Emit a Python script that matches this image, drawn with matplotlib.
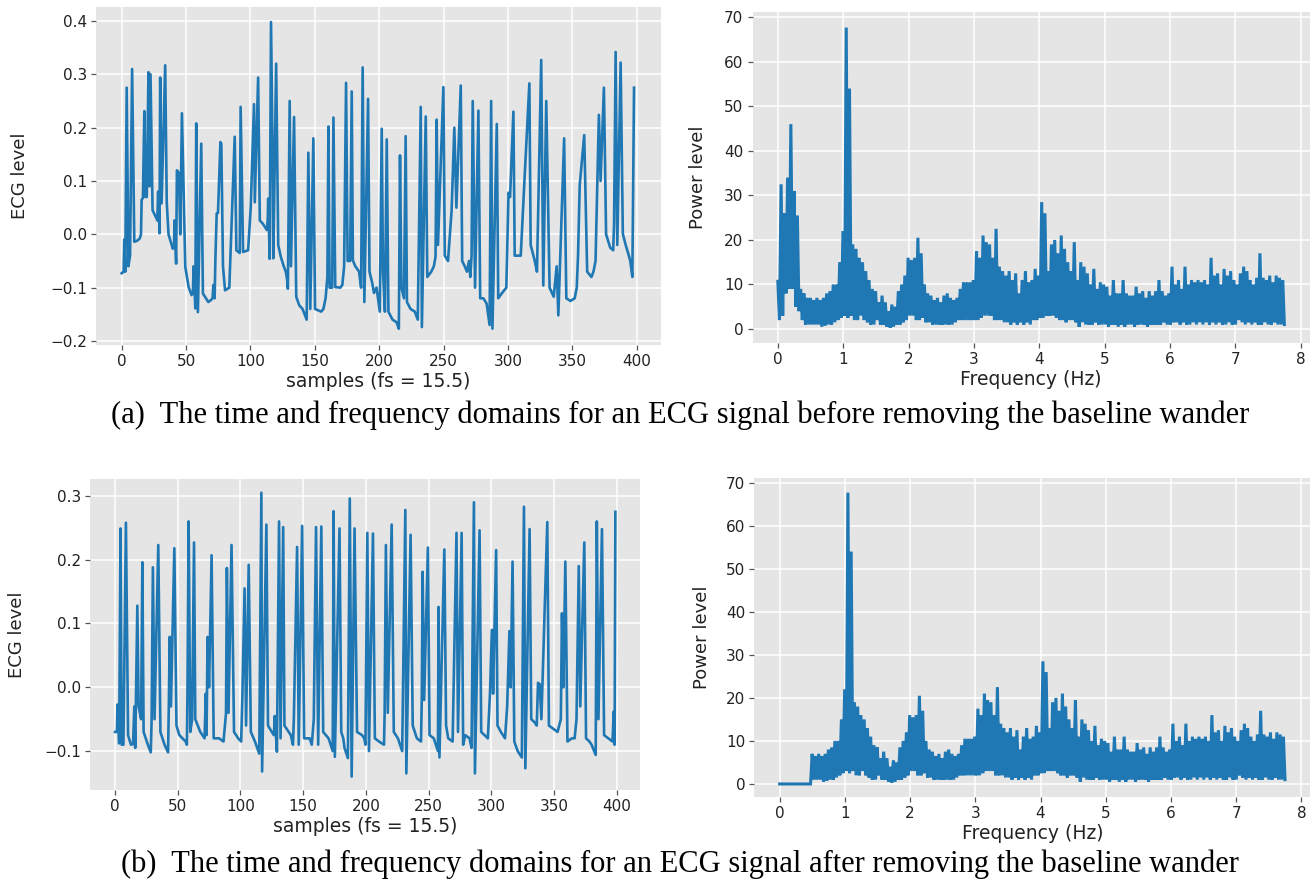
import numpy as np
import matplotlib
matplotlib.use("Agg")
import matplotlib.pyplot as plt

# ---------------- data ----------------
# (a) ECG before baseline-wander removal: (sample index, level)
ecg_before_idx = [0, 1.5, 2, 2.8, 3.9, 5.2, 6.5, 8.1, 9.8, 12, 14, 15, 15.5, 16.5, 17.6, 18.5, 19.5, 20.8,
                  21.6, 22.4, 24, 27, 27.7, 28.3, 29.4, 29.9, 31, 33.8, 35, 36.4, 39.7, 40.7, 41, 42.3,
                  42.9, 44.5, 45.5, 46.8, 49.4, 52, 54.3, 55.3, 55.9, 57.2, 57.9, 59.2, 61.8, 63.1,
                  67.3, 69, 70.6, 71.2, 72.2, 72.8, 73.8, 74.8, 76.7, 77.4, 78.7, 80.3, 83.6, 87.8,
                  89.1, 91.7, 92.4, 94.3, 98.2, 100.2, 102.8, 103.4, 106, 107.3, 109.6, 112.8, 113.5,
                  113.8, 115, 116, 117.5, 117.8, 120, 121.6, 123.6, 125.9, 127.5, 128.5, 129.1,
                  130.5, 131.5, 133.9, 135.6, 137.9, 140.5, 143.7, 145, 146.5, 148.9, 150.2, 155,
                  156.7, 158.4, 159.8, 160.6, 161.5, 163.5, 164.5, 165.9, 169.8, 171.4, 172.8, 174.3,
                  175.5, 177.5, 178.7, 179.6, 181.5, 184.4, 186, 187.2, 188.5, 191.4, 192.5, 194.5,
                  196, 198, 200.5, 202, 203, 204.5, 205.9, 207.2, 210.4, 213.6, 215.3, 216.2, 217.3,
                  219.3, 220.6, 221.6, 224.4, 227.7, 230, 232.3, 233.2, 236.2, 237.4, 240.5, 242.5,
                  243.8, 244.7, 245.7, 249.9, 251, 253.5, 256.3, 258.4, 260, 263.4, 264.5, 266.5,
                  268.2, 269.8, 270.8, 271.8, 272.7, 274.5, 277.1, 278.5, 281, 283.5, 285.8, 287,
                  288, 291.4, 292.5, 295.5, 298.8, 300.5, 301.7, 304.3, 305.3, 310, 312.8, 316.7,
                  317.7, 320.9, 322.6, 325.9, 327.5, 329.8, 332.4, 335.6, 337.9, 339.2, 343.7, 345.4,
                  348.6, 351.9, 353.5, 354.5, 355.8, 359.3, 361.6, 364.9, 366.5, 368.1, 370.7, 372,
                  374.6, 376.3, 379.5, 381.8, 382.5, 383.7, 385, 387.6, 389.3, 391.5, 393.5, 395.1,
                  396.7, 398]
ecg_before_val = [-0.073, -0.070, -0.010, -0.070, 0.275, -0.060, -0.040, 0.310, -0.014, -0.012, -0.008,
                  0.000, 0.065, 0.068, 0.231, 0.070, 0.070, 0.304, 0.090, 0.300, 0.045, 0.030, 0.026,
                  0.080, 0.002, 0.294, 0.058, 0.317, 0.060, 0.000, -0.027, -0.020, 0.026, -0.055,
                  0.120, 0.115, 0.000, 0.227, -0.061, -0.099, -0.114, -0.110, -0.060, -0.139, 0.208,
                  -0.146, 0.170, -0.111, -0.127, -0.124, -0.120, -0.095, -0.120, -0.046, 0.039, 0.040,
                  0.173, 0.170, -0.060, -0.105, -0.100, 0.183, -0.030, -0.035, 0.239, -0.033, -0.030,
                  0.048, 0.244, 0.060, 0.294, 0.026, 0.020, 0.008, 0.030, 0.067, -0.046, 0.398, 0.090,
                  -0.045, 0.320, -0.020, -0.042, -0.060, -0.070, -0.085, -0.102, 0.250, -0.060, 0.220,
                  -0.117, -0.133, -0.140, -0.160, 0.153, -0.140, 0.180, -0.140, -0.145, -0.140,
                  -0.120, -0.080, 0.202, -0.100, -0.100, 0.219, -0.099, -0.100, -0.095, -0.060, 0.284,
                  -0.050, -0.050, 0.268, -0.049, -0.060, -0.070, -0.100, 0.313, -0.127, 0.254, -0.070,
                  -0.090, -0.110, -0.100, -0.145, 0.198, -0.070, -0.145, 0.178, -0.145, -0.160,
                  -0.165, -0.177, 0.148, -0.100, -0.120, 0.184, -0.127, -0.140, -0.145, -0.160, 0.239,
                  -0.174, 0.221, -0.080, -0.070, -0.060, -0.042, 0.215, -0.020, 0.276, -0.040, -0.050,
                  0.045, 0.200, 0.050, 0.279, -0.050, -0.060, -0.070, -0.050, -0.080, -0.040, 0.250,
                  -0.100, 0.232, -0.120, -0.120, -0.130, -0.170, 0.250, -0.177, 0.207, -0.120, -0.110,
                  -0.100, 0.078, 0.070, 0.230, -0.040, -0.040, 0.097, 0.283, -0.020, -0.050, -0.070,
                  0.327, -0.096, 0.250, -0.100, -0.117, -0.060, -0.152, 0.180, -0.120, -0.125, -0.120,
                  -0.100, -0.040, 0.092, 0.186, -0.070, -0.080, -0.070, -0.050, 0.224, 0.100, 0.275,
                  0.000, -0.025, -0.030, 0.020, 0.342, -0.020, 0.322, 0.001, -0.020, -0.036, -0.050,
                  -0.080, 0.275]

# (b) ECG after baseline-wander removal: (sample index, level)
ecg_after_idx = [0, 1.5, 2, 3.3, 4.4, 5.3, 6.7, 8.7, 10.4, 12.7, 14.4, 15.4, 16.1, 17.8, 18.8, 20.8, 21.8,
                 22.8, 26.2, 28.5, 29.2, 30.2, 31.5, 34.5, 36.2, 39.5, 42.3, 42.9, 43.6, 44.6, 47.3,
                 49, 51.3, 56.3, 57.3, 57.8, 58.7, 60, 61.5, 63, 64, 68, 71.4, 72.4, 73, 73.8, 75, 77,
                 78.7, 83, 86.5, 88.5, 89.2, 90.5, 92.9, 94.9, 98.2, 100.6, 101.5, 103.3, 104.5, 106.6,
                 108.3, 111.6, 115, 116.7, 117.3, 120.7, 122, 125, 126.7, 127.4, 129.1, 130.8, 132,
                 134.1, 135.1, 140.2, 141.9, 142.6, 145.2, 146.5, 149.2, 150.8, 155.2, 156.9, 158.5,
                 160.3, 162, 164.5, 166, 170.3, 173.6, 174.3, 175.3, 179, 180.4, 182, 183, 185.7,
                 187.2, 188.7, 191, 193, 197, 198.7, 199.7, 201.2, 202.5, 205.7, 207.2, 210.5, 214.5,
                 215, 216, 217.5, 220.6, 222.3, 225.6, 229, 231.5, 232.3, 235.7, 237.4, 240.7, 244,
                 244.6, 245.3, 246.5, 249.5, 250.8, 254.2, 257.5, 258, 258.7, 262.6, 264, 265.7,
                 269.2, 272.3, 273.5, 276.4, 277.6, 279.3, 282.7, 284.3, 286.2, 287, 290.7, 292,
                 294.6, 297.3, 299, 300.5, 301.5, 303.9, 305, 307.7, 311, 312.7, 314.5, 315.5, 317,
                 318.4, 321.1, 324.4, 326.1, 327.2, 330.6, 331.9, 334.6, 336.3, 337.3, 338.6, 340,
                 344.7, 346, 349.5, 352.9, 355.5, 356.4, 357.5, 359.1, 360.8, 364.2, 366.5, 368,
                 369.8, 371, 374.2, 375.6, 378.3, 380, 383.3, 384.2, 385.5, 388.3, 390, 393.3, 396.7,
                 397.7, 398.4, 399]
ecg_after_val = [-0.070, -0.070, -0.027, -0.088, 0.249, -0.090, -0.090, 0.258, -0.075, -0.090, -0.089,
                 -0.030, -0.095, 0.128, -0.030, -0.050, 0.196, -0.070, -0.090, -0.102, -0.050, 0.188,
                 -0.050, 0.223, -0.070, -0.090, -0.102, -0.030, 0.079, -0.030, 0.218, -0.060, -0.075,
                 -0.085, -0.090, 0.000, 0.260, -0.070, -0.050, 0.227, -0.050, -0.070, -0.080, -0.010,
                 -0.075, 0.079, 0.000, 0.207, -0.080, -0.080, -0.085, -0.041, 0.187, -0.040, 0.223,
                 -0.070, -0.080, -0.085, -0.020, 0.155, -0.060, 0.192, -0.070, -0.085, -0.104, 0.305,
                 -0.132, 0.255, -0.060, -0.070, -0.075, -0.045, -0.101, 0.260, -0.080, 0.251, -0.060,
                 -0.075, -0.090, -0.050, 0.220, -0.090, 0.253, -0.080, -0.080, -0.090, -0.050, 0.251,
                 -0.090, 0.252, -0.070, -0.080, -0.100, 0.276, -0.109, 0.249, -0.070, -0.080, -0.095,
                 -0.111, 0.296, -0.140, 0.249, -0.070, -0.075, -0.080, -0.090, 0.242, -0.100, 0.241,
                 -0.080, -0.085, -0.090, -0.040, 0.223, -0.040, 0.255, -0.070, -0.080, -0.100, 0.278,
                 -0.135, 0.239, -0.060, -0.080, -0.085, -0.020, 0.181, -0.020, 0.219, -0.075, -0.080,
                 -0.100, 0.126, -0.110, 0.216, -0.060, -0.080, -0.085, 0.242, -0.070, 0.242, -0.090,
                 -0.075, -0.080, -0.095, 0.290, -0.135, 0.246, -0.070, -0.075, -0.080, -0.010, 0.090,
                 -0.010, 0.215, -0.060, -0.070, -0.080, -0.030, 0.088, 0.000, 0.197, -0.085, -0.100,
                 -0.110, 0.283, -0.127, 0.248, -0.050, -0.055, -0.060, 0.007, 0.005, -0.050, 0.259,
                 -0.060, -0.065, -0.070, -0.050, 0.116, 0.000, 0.197, -0.085, -0.080, -0.080, -0.050,
                 0.190, -0.030, 0.227, -0.080, -0.085, -0.090, -0.106, 0.260, -0.050, 0.248, -0.075,
                 -0.080, -0.085, -0.038, -0.090, 0.275]

# Power spectrum, read every 0.05 Hz from 0 to 7.75 Hz: upper and lower edge of the noisy trace
power_upper_before = [10.7, 32.5, 26, 34, 46, 31, 25.5, 9, 8, 7, 7, 6.5, 7, 6.5, 7, 8, 8.5, 10, 10, 15,
                      22, 67.7, 54, 19, 18, 16, 15, 13, 11, 9, 8.5, 6, 7.5, 6, 4, 5.5, 5, 8.5, 10, 12,
                      16, 15.5, 16, 20.5, 17, 10, 8, 7.5, 6.5, 7, 6, 7.5, 8, 7, 6.5, 7, 9, 10.5, 10.5,
                      10.5, 11, 17.5, 16, 21, 19.5, 19, 16, 22.5, 14, 13, 12, 13, 11, 12.5, 8, 11, 13,
                      10.5, 11, 13.5, 12, 28.5, 26, 13, 19, 20, 17, 21, 18, 15, 13, 19.5, 11, 15, 14,
                      12.5, 10, 13.5, 9, 10.5, 10, 9.5, 7.5, 11, 8, 8, 11, 8, 7.5, 7.5, 9.5, 8, 8.5, 7,
                      8.5, 7.5, 8.5, 11, 8.5, 7.5, 8, 14, 10, 11, 9, 14, 10, 11, 10.5, 11, 10.5, 11,
                      10, 16, 12, 12.5, 10, 13.5, 12, 13, 11, 10, 12.5, 14, 13, 11, 10, 11.5, 17, 11.5,
                      11, 12, 10.5, 12, 11.5, 11]
power_lower_before = [2, 3, 8, 9, 9, 5, 4, 2, 1, 1, 1, 1, 1, 0.5, 0.8, 1, 1, 1.5, 2, 2.5,
                      3, 2.5, 3, 2, 2, 3, 2, 1.5, 1, 1, 2, 1, 1, 0.5, 0.3, 0.5, 1, 1, 1.5, 2,
                      3, 3, 2, 2, 2.5, 1.5, 1.5, 1, 1, 1, 1, 1, 1, 1, 1.5, 2, 2, 2, 2,
                      2, 2, 2, 2.5, 3, 3, 3, 2, 2, 2, 1.5, 1.5, 1, 1.5, 1, 1.5, 1, 1.5,
                      1, 2, 2, 2.5, 2.5, 3, 3, 3, 2.5, 2, 2, 1.5, 2, 2, 1.5, 0.5, 1.5, 1,
                      1, 1, 1.5, 1, 1, 1, 0.5, 1, 1, 0.5, 1, 0.5, 1, 1, 0.5, 1, 1, 1, 0.5,
                      1, 1, 1, 1, 1.5, 1, 1, 1.5, 1.5, 1, 1.5, 1, 1, 1.5, 1, 1.5, 1, 1.5,
                      1, 1.5, 1, 1.5, 1, 1, 1.5, 1, 1, 2, 1.5, 1, 1.5, 1, 1.5, 1, 1, 1.5,
                      1, 1, 1.5, 1, 1, 1]
n_removed = 10  # bins below 0.5 Hz removed by the baseline filter
power_upper_after = [0.0] * n_removed + power_upper_before[n_removed:]
power_lower_after = [0.0] * n_removed + power_lower_before[n_removed:]

f_max = 7.75
x_ticks_samples = [0, 50, 100, 150, 200, 250, 300, 350, 400]
y_ticks_before = [-0.2, -0.1, 0.0, 0.1, 0.2, 0.3, 0.4]
y_ticks_after = [-0.1, 0.0, 0.1, 0.2, 0.3]
x_ticks_freq = [0, 1, 2, 3, 4, 5, 6, 7, 8]
y_ticks_power = [0, 10, 20, 30, 40, 50, 60, 70]
caption_a = "(a)  The time and frequency domains for an ECG signal before removing the baseline wander"
caption_b = "(b)  The time and frequency domains for an ECG signal after removing the baseline wander"

# ---------------- figure ----------------
plt.style.use("ggplot")
W, H = 1314, 891
fig = plt.figure(figsize=(W / 100, H / 100), dpi=100)
fig.patch.set_facecolor("white")
LINE = "#1f77b4"


def add_ax(left, right, top, bottom):
    return fig.add_axes([left / W, 1 - bottom / H, (right - left) / W, (bottom - top) / H])


def style(ax, ylabel, xlabel, ylab_px, left_px, width_px):
    ax.set_facecolor("#E5E5E5")
    ax.grid(True, color="white", linewidth=1.1)
    for s in ax.spines.values():
        s.set_visible(False)
    ax.tick_params(axis="both", which="major", labelsize=11, labelcolor="#222222",
                   color="#555555", length=3.5, width=0.9, pad=3)
    ax.set_ylabel(ylabel, fontsize=13, color="#222222")
    ax.set_xlabel(xlabel, fontsize=13.5, color="#222222", labelpad=2)
    # label anchor is the right edge of the rotated text: shift by half its height
    ax.yaxis.set_label_coords((ylab_px + 9 - left_px) / width_px, 0.5)


def spectrum(upper, lower):
    y = np.column_stack([upper, lower]).ravel()
    x = np.linspace(0, f_max, len(y))
    return x, y


# (a) time domain
ax1 = add_ax(96, 661, 6.6, 344.7)
ax1.plot(ecg_before_idx, ecg_before_val, color=LINE, linewidth=1.9)
ax1.set_xlim(-19.95, 418.95)
ax1.set_ylim(-0.207, 0.427)
ax1.set_xticks(x_ticks_samples)
ax1.set_yticks(y_ticks_before)
ax1.set_yticklabels([f"{v:.1f}".replace("-", "\u2212") for v in y_ticks_before])
style(ax1, "ECG level", "samples (fs = 15.5)", 20, 96, 565)

# (a) frequency domain
ax2 = add_ax(752.5, 1309.7, 12.4, 342.8)
fx, fy = spectrum(power_upper_before, power_lower_before)
ax2.plot(fx, fy, color=LINE, linewidth=2.2, solid_joinstyle="miter")
ax2.set_xlim(-0.3875, 8.1375)
ax2.set_ylim(-3.1, 71.1)
ax2.set_xticks(x_ticks_freq)
ax2.set_yticks(y_ticks_power)
style(ax2, "Power level", "Frequency (Hz)", 698, 752.5, 557.2)

# (b) time domain
ax3 = add_ax(90, 640.4, 479.3, 790)
ax3.plot(ecg_after_idx, ecg_after_val, color=LINE, linewidth=1.9)
ax3.set_xlim(-19.95, 418.95)
ax3.set_ylim(-0.161, 0.326)
ax3.set_xticks(x_ticks_samples)
ax3.set_yticks(y_ticks_after)
ax3.set_yticklabels([f"{v:.1f}".replace("-", "\u2212") for v in y_ticks_after])
style(ax3, "ECG level", "samples (fs = 15.5)", 17, 90, 550.4)

# (b) frequency domain
ax4 = add_ax(754.4, 1310.3, 478, 797.3)
fx, fy = spectrum(power_upper_after, power_lower_after)
ax4.plot(fx, fy, color=LINE, linewidth=2.2, solid_joinstyle="miter")
ax4.set_xlim(-0.3875, 8.1375)
ax4.set_ylim(-3.1, 71.1)
ax4.set_xticks(x_ticks_freq)
ax4.set_yticks(y_ticks_power)
style(ax4, "Power level", "Frequency (Hz)", 702, 754.4, 555.9)

fig.text(680 / W, 1 - 423 / H, caption_a, ha="center", va="baseline",
         family="Liberation Serif", fontsize=22, color="black")
fig.text(680 / W, 1 - 872 / H, caption_b, ha="center", va="baseline",
         family="Liberation Serif", fontsize=22, color="black")

fig.savefig("out.png", dpi=100, facecolor="white")
